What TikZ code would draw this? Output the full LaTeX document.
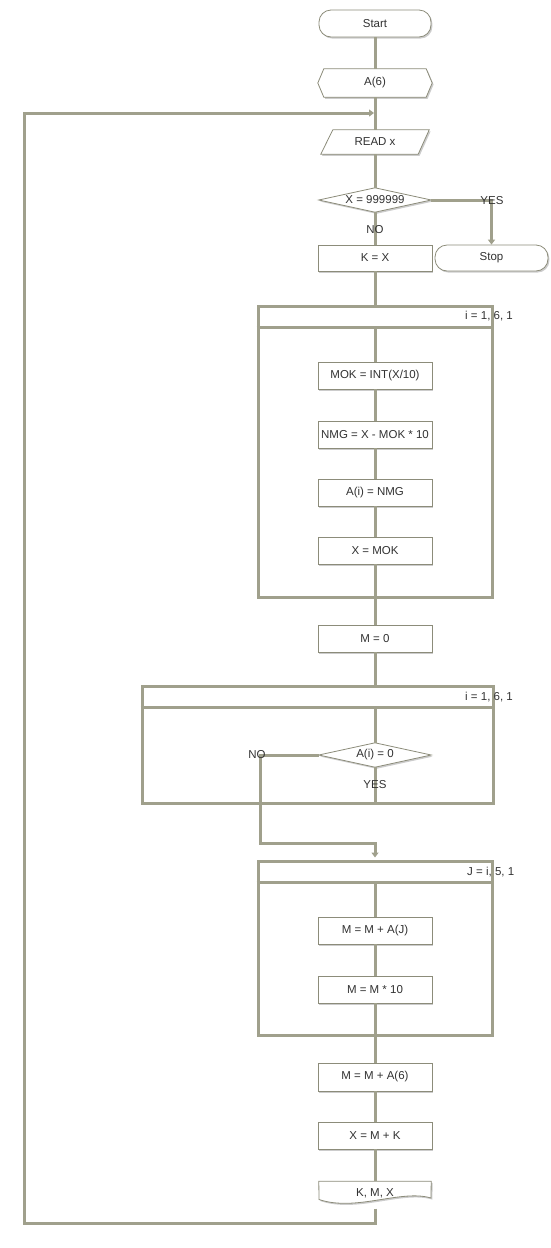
\documentclass[tikz,border=0pt]{standalone}
\usepackage{fontspec}
\setmainfont{Liberation Sans}
\usetikzlibrary{shadows,calc,arrows.meta,backgrounds}
\definecolor{conncol}{RGB}{160,160,140}
\definecolor{bordcol}{RGB}{140,140,122}
\definecolor{txtcol}{RGB}{50,50,50}
\begin{document}
\begin{tikzpicture}[x=1pt,y=-1pt,
  font=\fontsize{11.5}{13}\selectfont, text=txtcol,
  conn/.style={draw=conncol, line width=3pt},
  arr/.style={-{Triangle[length=5pt,width=7pt]}},
  shad/.style={drop shadow={shadow xshift=1.4pt, shadow yshift=-1.6pt, opacity=0.4}},
  box/.style={draw=bordcol, line width=0.8pt, fill=white, shad,
    minimum width=114pt, minimum height=27pt, inner sep=0pt},
  term/.style={box, rounded corners=12pt, minimum width=112pt},
  txtnode/.style={inner sep=0pt},
  outline/.style={draw=bordcol, line width=0.8pt, fill=white, shad},
  loopbox/.style={draw=conncol, line width=3pt, inner sep=0pt},
  lbl/.style={inner sep=0pt}
]
\useasboundingbox (0,0) rectangle (550,1248);

% ---------- nodes ----------
\node[term, minimum height=27pt] (start) at (375,23.5) {Start};
\node[txtnode, minimum width=114pt, minimum height=28pt] (a6) at (375,83) {A(6)};
\node[txtnode, minimum width=108pt, minimum height=24pt] (read) at (375,142) {READ x};
\node[txtnode, minimum width=112pt, minimum height=24pt] (dec1) at (375,200) {X = 999999};
\node[box, minimum height=26pt] (kx) at (375,258) {K = X};
\node[term, minimum width=113pt, minimum height=26pt] (stop) at (491.5,258) {Stop};

\node[loopbox, minimum width=234pt, minimum height=291pt] (loopA) at (375,451.5) {};
\coordinate (hA) at (375,327);
\node[lbl, anchor=west] (lA) at (465,316) {i = 1, 6, 1};
\node[box] (mok) at (375,375.5) {MOK = INT(X/10)};
\node[box] (nmg) at (375,434.5) {NMG = X - MOK * 10};
\node[box] (ai) at (375,492.5) {A(i) = NMG};
\node[box] (xmok) at (375,550.5) {X = MOK};

\node[box] (m0) at (375,638.5) {M = 0};

\node[loopbox, minimum width=351pt, minimum height=117pt] (loopB) at (317.5,744.5) {};
\coordinate (hB) at (375,707);
\node[lbl, anchor=west] (lB) at (465,697) {i = 1, 6, 1};
\node[txtnode, minimum width=112pt, minimum height=24pt] (dec2) at (375,755) {A(i) = 0};

\node[loopbox, minimum width=234pt, minimum height=174pt] (loopC) at (375,948) {};
\coordinate (hC) at (375,882);
\node[lbl, anchor=west] (lC) at (467,872) {J = i, 5, 1};
\node[box] (mma) at (375,930.5) {M = M + A(J)};
\node[box] (mm10) at (375,989.5) {M = M * 10};

\node[box, minimum height=28pt] (m6) at (375,1077) {M = M + A(6)};
\node[box] (xmk) at (375,1135.5) {X = M + K};
\node[txtnode, minimum width=112pt, minimum height=23pt, text depth=0pt] (kmx) at (375,1193) {K, M, X};

% ---------- custom outlines ----------
\begin{scope}[on background layer]
\path[outline] (a6.west) -- ($(a6.north west)+(6,0)$) -- ($(a6.north east)+(-6,0)$)
  -- (a6.east) -- ($(a6.south east)+(-6,0)$) -- ($(a6.south west)+(6,0)$) -- cycle;
\path[outline] ($(read.north west)+(12,0)$) -- (read.north east)
  -- ($(read.south east)+(-11,0)$) -- (read.south west) -- cycle;
\path[outline] (dec1.north) -- (dec1.east) -- (dec1.south) -- (dec1.west) -- cycle;
\path[outline] (dec2.north) -- (dec2.east) -- (dec2.south) -- (dec2.west) -- cycle;
\path[outline] (kmx.north west) -- (kmx.north east) -- ($(kmx.center)+(56,5)$)
  .. controls ($(kmx.center)+(26,-4)$) and ($(kmx.center)+(-19,19)$) .. ($(kmx.center)+(-56,6.5)$) -- cycle;
\end{scope}

% ---------- loop headers ----------
\draw[conn] (loopA.west |- hA) -- (loopA.east |- hA);
\draw[conn] (loopB.west |- hB) -- (loopB.east |- hB);
\draw[conn] (loopC.west |- hC) -- (loopC.east |- hC);

% ---------- connectors ----------
\coordinate (join) at (375,113);
\coordinate (br) at (375,1223);
\coordinate (bl) at (24,1223);
\coordinate (tl) at (24,113);
\coordinate (nb1) at (260,755);
\coordinate (nb2) at (260,843);

\draw[conn] (start) -- (a6);
\draw[conn] (a6) -- (read);
\draw[conn] (read) -- (dec1);
\draw[conn] (dec1) -- (kx);
\draw[conn, arr] (dec1.east) -| (stop.north);
\draw[conn] (kx.south) -- (kx.south |- loopA.north);
\draw[conn] (hA) -- (mok);
\draw[conn] (mok) -- (nmg);
\draw[conn] (nmg) -- (ai);
\draw[conn] (ai) -- (xmok);
\draw[conn] (xmok.south) -- (xmok.south |- loopA.south);
\draw[conn] (m0.north |- loopA.south) -- (m0);
\draw[conn] (m0.south) -- (m0.south |- loopB.north);
\draw[conn] (hB) -- (dec2);
\draw[conn] (dec2.south) -- (dec2.south |- loopB.south);
\draw[conn, arr, shorten >=2pt] (dec2.west) -- (nb1) -- (nb2) -| (loopC.north);
\draw[conn] (hC) -- (mma);
\draw[conn] (mma) -- (mm10);
\draw[conn] (mm10.south) -- (mm10.south |- loopC.south);
\draw[conn] (m6.north |- loopC.south) -- (m6);
\draw[conn] (m6) -- (xmk);
\draw[conn] (xmk) -- (kmx);
\draw[conn, arr, shorten <=4pt, shorten >=1pt] (kmx.south) -- (br) -- (bl) -- (tl) -- (join);

% ---------- branch labels ----------
\node[lbl] (no1) at (375,230) {NO};
\node[lbl] (yes1) at (492,201) {YES};
\node[lbl] (no2) at (257,755) {NO};
\node[lbl] (yes2) at (375,785) {YES};
\end{tikzpicture}
\end{document}
